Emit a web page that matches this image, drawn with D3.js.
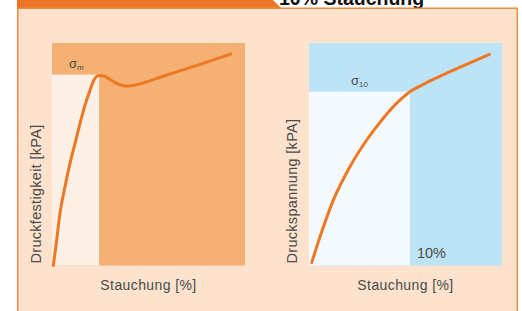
<!DOCTYPE html>
<html lang="de">
<head>
<meta charset="UTF-8">
<title>Druckfestigkeit / Druckspannung</title>
<script src="https://d3js.org/d3.v7.min.js"></script>
<style>
  body { margin: 0; background: #fff; }
  svg { display: block; }
  .lbl { font-family: "Liberation Sans", Arial, sans-serif; fill: #4a4a4a; }
</style>
</head>
<body>
<svg id="chart" width="522" height="311"></svg>
<script>
// left chart: compressive strength (strain %, stress, relative units 0..100)
const strainLeft = [0.7, 2.4, 4.1, 6.7, 9.3, 11.9, 14.5, 17.1, 19.7, 21.9, 24.0, 26.6, 30.1, 34.4, 38.7, 43.0, 59.4, 76.7, 92.6];
const stressLeft = [0, 11.3, 23.3, 35.3, 45.8, 54.8, 63.8, 72.1, 78.8, 83.6, 85.3, 85.3, 83.6, 81.5, 80.6, 81.1, 85.6, 90.4, 95.0];
const peakLeft = { strain: 24.4, stress: 85.8 };

// right chart: compressive stress at 10 % strain
const strainRight = [1.4, 5.7, 12.6, 21.2, 29.9, 38.5, 47.2, 52.3, 61.0, 73.1, 83.4, 93.4];
const stressRight = [1.3, 12.9, 29.4, 44.4, 56.4, 66.2, 74.4, 78.1, 82.2, 87.1, 91.1, 94.9];
const markRight = { strain: 52.3, stress: 78.1 };

const title = "10% Stauchung";
const xTitle = "Stauchung [%]";
const yTitles = ["Druckfestigkeit [kPA]", "Druckspannung [kPA]"];

const svg = d3.select("#chart");

// header tab + title (only its lower edge shows above the panel)
svg.append("polygon")
    .attr("points", "17,0 273,0 281,8 17,8")
    .attr("fill", "#ec7626");
svg.append("text")
    .attr("x", 279).attr("y", 4.5)
    .attr("font-family", "'Liberation Sans', Arial, sans-serif")
    .attr("font-weight", "bold")
    .attr("font-size", 19.5)
    .attr("fill", "#111")
    .text(title);

// panel
svg.append("rect")
    .attr("x", 17.75).attr("y", 8.25)
    .attr("width", 499.5).attr("height", 320)
    .attr("fill", "#fde3cd")
    .attr("stroke", "#ef8a3e")
    .attr("stroke-width", 1.5);

function drawPanel(opts) {
    const g = svg.append("g").attr("transform", `translate(${opts.left},43)`);
    const w = 193, h = 222.5;
    const x = d3.scaleLinear().domain([0, 100]).range([0, w]);
    const y = d3.scaleLinear().domain([0, 100]).range([h, 0]);

    g.append("rect").attr("width", w).attr("height", h).attr("fill", opts.dark);
    g.append("rect")
        .attr("x", 0).attr("y", y(opts.mark.stress))
        .attr("width", x(opts.mark.strain))
        .attr("height", h - y(opts.mark.stress))
        .attr("fill", opts.light);

    const pts = opts.xs.map((v, i) => [v, opts.ys[i]]);
    g.append("path")
        .datum(pts)
        .attr("fill", "none")
        .attr("stroke", "#ee7724")
        .attr("stroke-width", 3)
        .attr("stroke-linecap", "round")
        .attr("d", d3.line().x(d => x(d[0])).y(d => y(d[1])).curve(d3.curveMonotoneX));

    // sigma label
    const s = g.append("text").attr("class", "lbl")
        .attr("x", opts.sigmaX).attr("y", y(opts.mark.stress) - 7)
        .attr("font-size", 13).attr("fill", "#555");
    s.append("tspan").text("σ");
    s.append("tspan").attr("font-size", 8).attr("dy", 2).text(opts.sub);

    // axis titles
    g.append("text").attr("class", "lbl")
        .attr("x", w / 2).attr("y", 247)
        .attr("text-anchor", "middle")
        .attr("font-size", 14)
        .attr("letter-spacing", 0.4)
        .text(xTitle);
    g.append("text").attr("class", "lbl")
        .attr("transform", `translate(${opts.yLabelX},${h - 2}) rotate(-90)`)
        .attr("font-size", 14.5)
        .attr("letter-spacing", 0.3)
        .text(opts.yTitle);
    return { g, x, y, h };
}

drawPanel({
    left: 52, dark: "#f5b073", light: "#fdf1e7",
    xs: strainLeft, ys: stressLeft, mark: peakLeft,
    sigmaX: 17, sub: "m", yLabelX: -11, yTitle: yTitles[0]
});

const right = drawPanel({
    left: 309, dark: "#bde4f6", light: "#f4f9fd",
    xs: strainRight, ys: stressRight, mark: markRight,
    sigmaX: 42, sub: "10", yLabelX: -12, yTitle: yTitles[1]
});

right.g.append("text").attr("class", "lbl")
    .attr("x", right.x(markRight.strain) + 7).attr("y", right.h - 8)
    .attr("font-size", 14.5)
    .text("10%");
</script>
</body>
</html>
